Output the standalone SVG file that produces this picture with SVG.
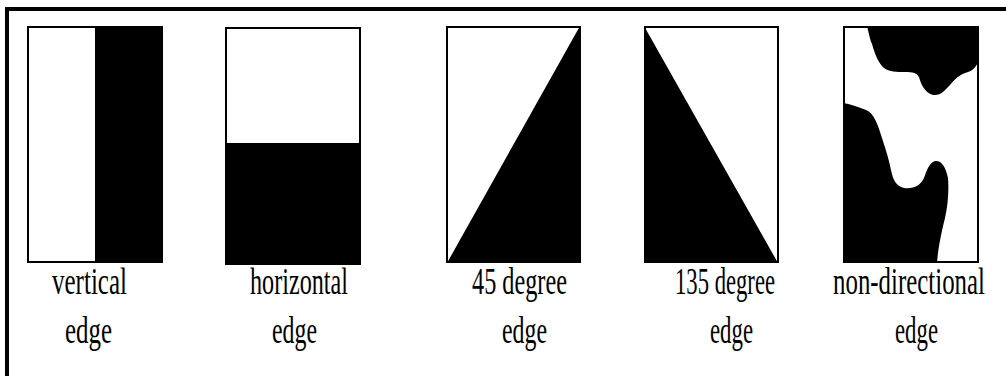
<svg xmlns="http://www.w3.org/2000/svg" width="1006" height="376" viewBox="0 0 1006 376">
<style>
.frame{fill:#fff;stroke:#000;stroke-width:2}
.blk{fill:#000;stroke:none}
.lbl{font-family:"Liberation Serif","Times New Roman",serif;font-size:38px;fill:#000;text-anchor:start}
</style>
<rect x="0" y="0" width="1006" height="376" fill="#fff"/>
<path d="M7,376 V9 H1006" fill="none" stroke="#000" stroke-width="4"/>
<g id="vertical">
<rect class="frame" x="28" y="27" width="134" height="235"/>
<rect class="blk" x="95" y="26" width="68" height="237"/>
<text class="lbl" x="52" y="294" textLength="75" lengthAdjust="spacingAndGlyphs">vertical</text>
<text class="lbl" x="65" y="343" textLength="47" lengthAdjust="spacingAndGlyphs">edge</text>
</g>
<g id="horizontal">
<rect class="frame" x="226" y="28" width="134" height="236"/>
<rect class="blk" x="225" y="143" width="136" height="122"/>
<text class="lbl" x="250" y="294" textLength="98" lengthAdjust="spacingAndGlyphs">horizontal</text>
<text class="lbl" x="272" y="343" textLength="45" lengthAdjust="spacingAndGlyphs">edge</text>
</g>
<g id="deg45">
<rect class="frame" x="447" y="27" width="133" height="235"/>
<polygon class="blk" points="447,263 580,26 581,263"/>
<text class="lbl" x="472" y="294" textLength="95" lengthAdjust="spacingAndGlyphs">45 degree</text>
<text class="lbl" x="502" y="343" textLength="45" lengthAdjust="spacingAndGlyphs">edge</text>
</g>
<g id="deg135">
<rect class="frame" x="645" y="27" width="133" height="235"/>
<polygon class="blk" points="644,26 778,263 644,263"/>
<text class="lbl" x="675" y="294" textLength="100" lengthAdjust="spacingAndGlyphs">135 degree</text>
<text class="lbl" x="710" y="343" textLength="43" lengthAdjust="spacingAndGlyphs">edge</text>
</g>
<g id="nondirectional">
<rect class="frame" x="844" y="27" width="134" height="235"/>
<path class="blk" d="M867,26 C869,34 870,40 872,44 C875,55 879,64 884,68 C889,72 897,72 905,72 C913,72 917,73 919,77 C921,84 924,92 933,95 C941,96 945,90 950,85 C955,79 960,74 968,72 C974,70 976,66 979,61 L979,26 Z"/>
<path class="blk" d="M843,103 C850,104 858,107 866,110 C874,113 878,125 882,138 C886,150 889,160 891,170 C893,180 896,186 904,188 C914,189 920,186 924,178 C927,170 929,163 935,161 C942,160 946,168 948,178 C949,190 948,205 945,218 C942,230 938,248 937,263 L843,263 Z"/>
<text class="lbl" x="833" y="294" textLength="152" lengthAdjust="spacingAndGlyphs">non-directional</text>
<text class="lbl" x="895" y="343" textLength="43" lengthAdjust="spacingAndGlyphs">edge</text>
</g>
</svg>
